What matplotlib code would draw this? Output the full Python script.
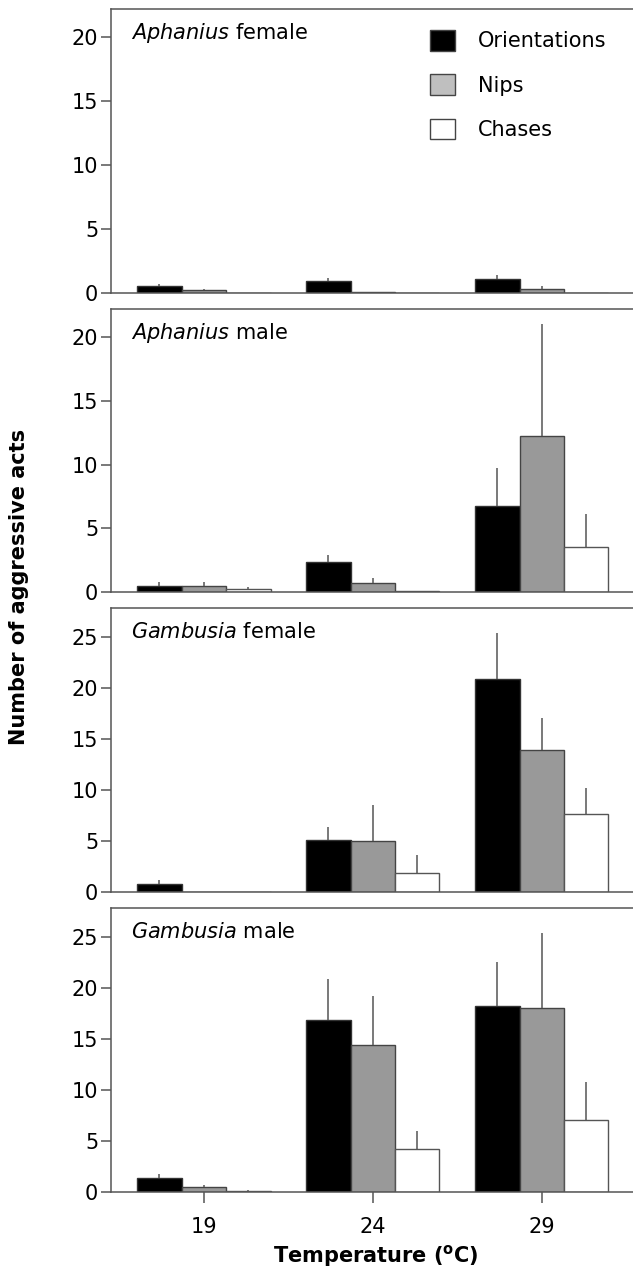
import matplotlib
matplotlib.use('Agg')
import matplotlib.pyplot as plt
from matplotlib.patches import Patch
import numpy as np

# temperatures (groups) and behaviour categories
temps = ['19', '24', '29']
behaviours = ['Orientations', 'Nips', 'Chases']

# Aphanius female: means and upper SE per behaviour (19, 24, 29 C)
af_orient = [0.57, 0.94, 1.07]
af_nips = [0.20, 0.07, 0.34]
af_chases = [0.02, 0.02, 0.02]
af_orient_se = [0.13, 0.26, 0.31]
af_nips_se = [0.10, 0.03, 0.21]
af_chases_se = [0.0, 0.0, 0.0]

# Aphanius male
am_orient = [0.44, 2.39, 6.74]
am_nips = [0.44, 0.70, 12.21]
am_chases = [0.20, 0.05, 3.56]
am_orient_se = [0.31, 0.50, 2.99]
am_nips_se = [0.31, 0.36, 8.79]
am_chases_se = [0.16, 0.0, 2.56]

# Gambusia female
gf_orient = [0.81, 5.09, 20.84]
gf_nips = [0.02, 4.99, 13.92]
gf_chases = [0.02, 1.86, 7.66]
gf_orient_se = [0.32, 1.27, 4.50]
gf_nips_se = [0.0, 3.55, 3.07]
gf_chases_se = [0.0, 1.79, 2.54]

# Gambusia male
gm_orient = [1.37, 16.86, 18.16]
gm_nips = [0.45, 14.35, 18.03]
gm_chases = [0.13, 4.21, 7.05]
gm_orient_se = [0.42, 4.01, 4.40]
gm_nips_se = [0.20, 4.79, 7.37]
gm_chases_se = [0.10, 1.76, 3.74]

panels = [
    ('Aphanius', 'female', [af_orient, af_nips, af_chases], [af_orient_se, af_nips_se, af_chases_se], 22.2, [0, 5, 10, 15, 20]),
    ('Aphanius', 'male', [am_orient, am_nips, am_chases], [am_orient_se, am_nips_se, am_chases_se], 22.2, [0, 5, 10, 15, 20]),
    ('Gambusia', 'female', [gf_orient, gf_nips, gf_chases], [gf_orient_se, gf_nips_se, gf_chases_se], 27.8, [0, 5, 10, 15, 20, 25]),
    ('Gambusia', 'male', [gm_orient, gm_nips, gm_chases], [gm_orient_se, gm_nips_se, gm_chases_se], 27.8, [0, 5, 10, 15, 20, 25]),
]

colors = ['black', '#999999', 'white']
edges = ['#333333', '#444444', '#555555']
legend_colors = ['black', '#bfbfbf', 'white']
line_col = '#555555'
fs = 15

plt.rcParams['font.family'] = 'DejaVu Sans'

W, H = 633, 1276
fig = plt.figure(figsize=(W / 100, H / 100), dpi=100, facecolor='w')

# panel frames in pixels (top, bottom)
frames = [(9, 293), (309, 592), (608, 892), (908, 1192)]
left_px = 111

x = np.arange(len(temps))
w = 0.263

for i, (genus, sex, means, ses, ymax, yticks) in enumerate(panels):
    top, bot = frames[i]
    ax = fig.add_axes([left_px / W, 1 - bot / H, (W - left_px) / W + 0.01, (bot - top) / H])
    for j in range(3):
        ax.bar(x + (j - 1) * w, means[j], width=w, color=colors[j], edgecolor=edges[j], linewidth=1.0,
               yerr=[np.zeros(3), ses[j]], error_kw=dict(ecolor=line_col, elinewidth=1.1, capsize=0), zorder=2)
    ax.set_xlim(-0.55, 2.54 + 0.01 * 3.09 / 0.8246)
    ax.set_ylim(0, ymax)
    ax.set_yticks(yticks)
    for s in ['left', 'top', 'bottom']:
        ax.spines[s].set_color(line_col)
        ax.spines[s].set_linewidth(1.1)
    ax.spines['right'].set_visible(False)
    ax.tick_params(axis='y', direction='out', length=7.2, width=1.1, color=line_col, labelsize=fs, pad=2)
    if i < 3:
        ax.tick_params(axis='x', bottom=False, labelbottom=False)
    else:
        ax.set_xticks(x)
        ax.set_xticklabels(temps)
        ax.tick_params(axis='x', direction='out', length=7.9, width=1.1, color=line_col, labelsize=fs, pad=10)
    ax.annotate(r'$\mathit{' + genus + '}$ ' + sex, xy=(0, 1), xycoords='axes fraction',
                xytext=(20, -24), textcoords='offset pixels', ha='left', va='center', fontsize=fs)
    if i == 0:
        handles = [Patch(facecolor=legend_colors[k], edgecolor='#444444', linewidth=1.0) for k in range(3)]
        ax.legend(handles, behaviours, loc='upper left', bbox_to_anchor=(430 / W, 1 - 30 / H),
                  bbox_transform=fig.transFigure, frameon=False, fontsize=fs, borderpad=0, borderaxespad=0,
                  handlelength=1.2, handleheight=1.15, labelspacing=1.1, handletextpad=1.09)

fig.text(19 / W, 1 - 587 / H, 'Number of aggressive acts', rotation=90, ha='center', va='center',
         fontsize=fs, fontweight='bold')
fig.text(376 / W, 1 - 1256 / H, r'Temperature ($\mathbf{^o}$C)', ha='center', va='center',
         fontsize=fs, fontweight='bold')

plt.savefig('out.png', dpi=100)
